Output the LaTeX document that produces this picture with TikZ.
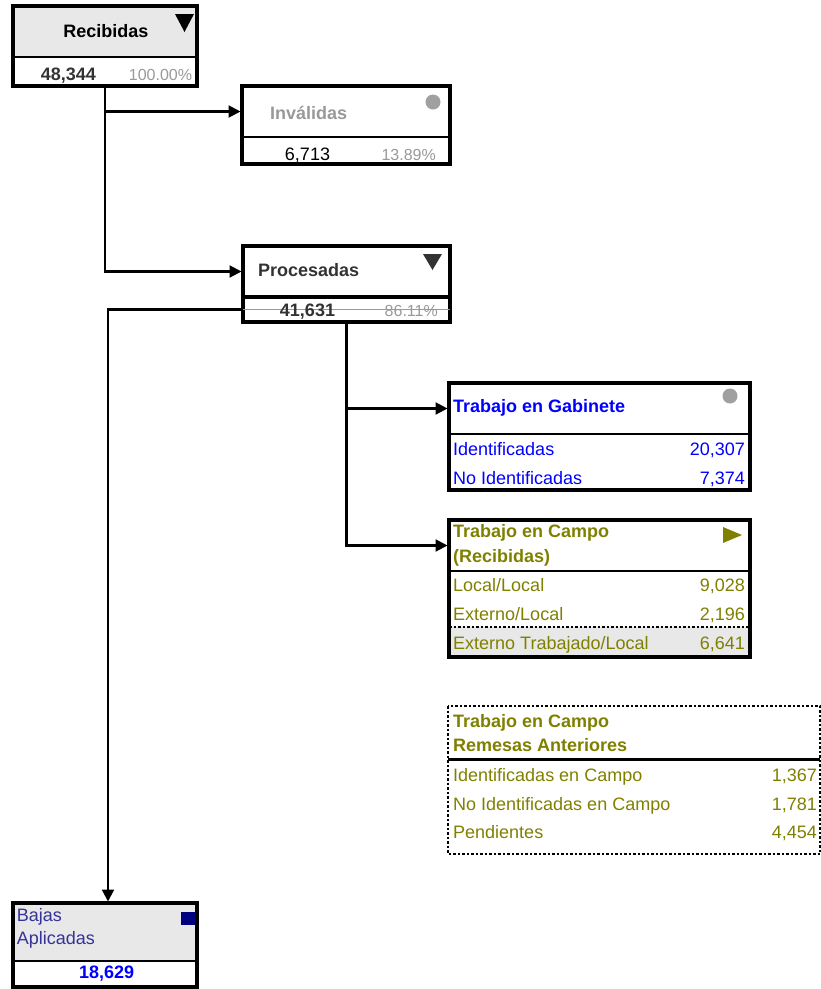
\documentclass[tikz,border=0pt]{standalone}
\usepackage{fontspec}
\setmainfont{Liberation Sans}
\usepackage{tikz}
\usetikzlibrary{arrows.meta}

\definecolor{cellgray}{HTML}{E8E8E8}
\definecolor{txtdark}{HTML}{333333}
\definecolor{txtgray}{HTML}{999999}
\definecolor{markgray}{HTML}{A0A0A0}
\definecolor{olivetxt}{HTML}{808000}
\definecolor{slatetxt}{HTML}{333399}
\definecolor{navymark}{HTML}{000080}

\tikzset{
    cell/.style={anchor=north west, inner sep=0pt, outer sep=0pt},
    boxframe/.style={draw, line width=3.2pt},
    divider/.style={draw, line width=1.2pt},
    dotline/.style={draw, line width=2.6pt, dash pattern=on 2.5pt off 2pt},
    rowtxt/.style={inner sep=0pt, font=\fontsize{18pt}{21pt}\selectfont},
    headtxt/.style={inner sep=0pt, font=\fontsize{18pt}{21pt}\selectfont\bfseries},
    pcttxt/.style={inner sep=0pt, anchor=base east, text=txtgray, font=\fontsize{16pt}{19pt}\selectfont},
    conn/.style={line width=2.2pt, shorten >=1.5pt, -{Triangle[length=12pt,width=12pt]}}
}

\begin{document}
\begin{tikzpicture}[x=1pt, y=-1pt]
        \useasboundingbox (0,0) rectangle (821,989);

        \node[cell, fill=cellgray, minimum width=184pt, minimum height=51pt] (recvT) at (13,6)   {};
        \node[cell, minimum width=184pt, minimum height=29pt]                (recvB) at (recvT.south west) {};
        \node[cell, minimum width=208pt, minimum height=51pt]                (invT)  at (242,86)  {};
        \node[cell, minimum width=208pt, minimum height=27pt]                (invB)  at (invT.south west) {};
        \node[cell, minimum width=207pt, minimum height=51pt]                (procT) at (243,246) {};
        \node[cell, minimum width=207pt, minimum height=25pt]                (procB) at (procT.south west) {};
        \node[cell, minimum width=301pt, minimum height=51pt]                (gabT)  at (449,383) {};
        \node[cell, minimum width=301pt, minimum height=56pt]                (gabB)  at (gabT.south west) {};
        \node[cell, minimum width=301pt, minimum height=51pt]                (campT) at (449,520) {};
        \node[cell, minimum width=301pt, minimum height=56pt]                (campB) at (campT.south west) {};
        \node[cell, fill=cellgray, minimum width=301pt, minimum height=30pt] (campX) at (campB.south west) {};
        \node[cell, minimum width=372pt, minimum height=53pt]                (remT)  at (448,706) {};
        \node[cell, minimum width=372pt, minimum height=95pt]                (remB)  at (remT.south west) {};
        \node[cell, fill=cellgray, minimum width=184pt, minimum height=58pt] (bajT)  at (13,903)  {};
        \node[cell, minimum width=184pt, minimum height=26pt]                (bajB)  at (bajT.south west) {};

        \draw[boxframe] (recvT.north west) rectangle (recvB.south east);
        \draw[divider]  (recvT.south west) -- (recvT.south east);
        \draw[boxframe] (invT.north west) rectangle (invB.south east);
        \draw[divider]  (invT.south west) -- (invT.south east);
        \draw[boxframe] (procT.north west) rectangle (procT.south east);
        \draw[boxframe] (procB.north west) rectangle (procB.south east);
        \draw[txtgray, line width=1pt] (procB.west) -- (procB.east);
        \draw[boxframe] (gabT.north west) rectangle (gabB.south east);
        \draw[divider]  (gabT.south west) -- (gabT.south east);
        \draw[boxframe] (campT.north west) rectangle (campX.south east);
        \draw[divider]  (campT.south west) -- (campT.south east);
        \draw[dotline]  (campX.north west) -- (campX.north east);
        \draw[dotline]  (remT.north west) rectangle (remB.south east);
        \draw[line width=3pt] (remT.south west) -- (remT.south east);
        \draw[boxframe] (bajT.north west) rectangle (bajB.south east);
        \draw[divider]  (bajT.south west) -- (bajT.south east);

        \fill (175,14) -- (194,14) -- (184.5,32) -- cycle;
        \fill[markgray] (433,102) circle (7.5pt);
        \fill[txtdark] (423,254) -- (442,254) -- (432.5,270) -- cycle;
        \fill[markgray] (730,396) circle (7.5pt);
        \fill[olivetxt] (723,527) -- (742,535) -- (723,543) -- cycle;
        \fill[navymark] (181,912) rectangle (195,925);

        \node[headtxt, anchor=base]                      (recvLbl) at (105.8,37.3) {Recibidas};
        \node[headtxt, text=txtdark, anchor=base]        (recvNum) at (68.3,80)    {48,344};
        \node[pcttxt]                                    (recvPct) at (192.3,80)   {100.00\%};
        \node[headtxt, text=txtgray, anchor=base west]   (invLbl)  at (270,119)    {Inválidas};
        \node[rowtxt, anchor=base]                       (invNum)  at (307.5,160)  {6,713};
        \node[pcttxt]                                    (invPct)  at (436,160)    {13.89\%};
        \node[headtxt, text=txtdark, anchor=base west]   (procLbl) at (258,276)    {Procesadas};
        \node[headtxt, text=txtdark, anchor=base]        (procNum) at (307.5,316)  {41,631};
        \node[pcttxt]                                    (procPct) at (438,316)    {86.11\%};

        \node[headtxt, text=blue, anchor=base west]      (gabLbl)  at (453,412)    {Trabajo en Gabinete};
        \node[rowtxt, text=blue, anchor=base west]       (gabIdL)  at (453,455)    {Identificadas};
        \node[rowtxt, text=blue, anchor=base east]       (gabIdV)  at (745,455)    {20,307};
        \node[rowtxt, text=blue, anchor=base west]       (gabNoL)  at (453,484)    {No Identificadas};
        \node[rowtxt, text=blue, anchor=base east]       (gabNoV)  at (745,484)    {7,374};

        \node[headtxt, text=olivetxt, anchor=base west]  (campLbl) at (453,537.3)  {Trabajo en Campo};
        \node[headtxt, text=olivetxt, anchor=base west]  (campSub) at (453,562.3)  {(Recibidas)};
        \node[rowtxt, text=olivetxt, anchor=base west]   (campLlL) at (453,591)    {Local/Local};
        \node[rowtxt, text=olivetxt, anchor=base east]   (campLlV) at (745,591)    {9,028};
        \node[rowtxt, text=olivetxt, anchor=base west]   (campElL) at (453,620)    {Externo/Local};
        \node[rowtxt, text=olivetxt, anchor=base east]   (campElV) at (745,620)    {2,196};
        \node[rowtxt, text=olivetxt, anchor=base west]   (campEtL) at (453,649.3)  {Externo Trabajado/Local};
        \node[rowtxt, text=olivetxt, anchor=base east]   (campEtV) at (745,649.3)  {6,641};

        \node[headtxt, text=olivetxt, anchor=base west]  (remLbl)  at (453,727.3)  {Trabajo en Campo};
        \node[headtxt, text=olivetxt, anchor=base west]  (remSub)  at (453,751.7)  {Remesas Anteriores};
        \node[rowtxt, text=olivetxt, anchor=base west]   (remIdL)  at (453,781.7)  {Identificadas en Campo};
        \node[rowtxt, text=olivetxt, anchor=base east]   (remIdV)  at (817,781.7)  {1,367};
        \node[rowtxt, text=olivetxt, anchor=base west]   (remNoL)  at (453,810.7)  {No Identificadas en Campo};
        \node[rowtxt, text=olivetxt, anchor=base east]   (remNoV)  at (817,810.7)  {1,781};
        \node[rowtxt, text=olivetxt, anchor=base west]   (remPeL)  at (453,838.3)  {Pendientes};
        \node[rowtxt, text=olivetxt, anchor=base east]   (remPeV)  at (817,838.3)  {4,454};

        \node[rowtxt, text=slatetxt, anchor=base west]   (bajLbl)  at (16.7,921.7) {Bajas};
        \node[rowtxt, text=slatetxt, anchor=base west]   (bajSub)  at (16.7,944)   {Aplicadas};
        \node[headtxt, text=blue, anchor=base]           (bajNum)  at (106.7,978.3) {18,629};

        \draw[conn] (recvB.south) |- (invT.west);
        \draw[conn] (recvB.south) |- (procT.west);
        \draw[conn] (procB.west)  -| ([xshift=3pt]bajT.north);
        \draw[conn] (procB.south) |- (gabT.west);
        \draw[conn] (procB.south) |- (campT.west);
    \end{tikzpicture}
\end{document}
